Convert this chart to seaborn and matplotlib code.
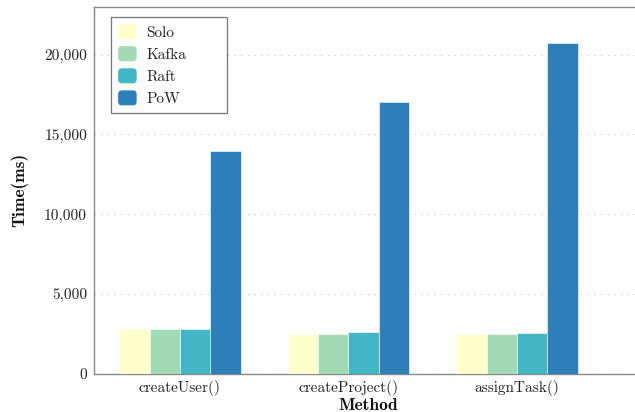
import pandas as pd
import numpy as np
import matplotlib
matplotlib.use('Agg')
import matplotlib.pyplot as plt
import seaborn as sns
from matplotlib.ticker import FuncFormatter
from matplotlib.legend_handler import HandlerPatch
from matplotlib.patches import FancyBboxPatch, Rectangle

# data
methods = ['createUser()', 'createProject()', 'assignTask()']
systems = ['Solo', 'Kafka', 'Raft', 'PoW']
solo = [2800, 2460, 2460]
kafka = [2800, 2500, 2480]
raft = [2780, 2580, 2520]
pow_ = [13960, 17060, 20740]
colors = ['#ffffcc', '#a1dab4', '#41b6c4', '#2c7fb8']

rows = []
for name, vals in zip(systems, [solo, kafka, raft, pow_]):
    for m, v in zip(methods, vals):
        rows.append({'Method': m, 'System': name, 'Time': v})
df = pd.DataFrame(rows)

sns.set_style('white')
plt.rcParams['font.family'] = ['cmr10', 'DejaVu Serif']
plt.rcParams['axes.formatter.use_mathtext'] = True

fig = plt.figure(figsize=(6.35, 4.12), dpi=100)
ax = fig.add_axes([94 / 635, 38.5 / 412, 548 / 635, 366.5 / 412])

sns.barplot(data=df, x='Method', y='Time', hue='System', order=methods,
            hue_order=systems, palette=colors, width=0.72, saturation=1,
            edgecolor='white', linewidth=0.4, ax=ax, zorder=3)

ax.set_xlim(-0.51, -0.51 + 548 / 168.5)
ax.set_ylim(0, 23000)
ax.set_yticks([0, 5000, 10000, 15000, 20000])
ax.yaxis.set_major_formatter(FuncFormatter(lambda v, p: f'{int(v):,}'))
ax.grid(axis='y', linestyle=(0, (1, 5)), color='#c4c4c4', linewidth=0.8, zorder=0)
ax.set_axisbelow(True)

for s in ['left', 'bottom', 'top']:
    ax.spines[s].set_color('#888888')
    ax.spines[s].set_linewidth(1.0)
ax.spines['right'].set_visible(False)
ax.tick_params(axis='both', length=0, labelsize=11, pad=5, labelcolor='#222222')

ax.set_xlabel('Method', fontsize=12.5, fontfamily='cmb10', labelpad=1, color='#111111')
ax.set_ylabel('Time(ms)', fontsize=12.5, fontfamily='cmb10', labelpad=11, color='#111111')


# rounded squares in the legend
def rounded(legend, orig_handle, xdescent, ydescent, width, height, fontsize):
    return FancyBboxPatch((-xdescent, -ydescent), width, height,
                          boxstyle='round,pad=0,rounding_size=3')


leg = ax.legend(loc='upper left', bbox_to_anchor=(0.031, 0.973 - 0.26, 0.212, 0.26),
                mode='expand', fontsize=11,
                frameon=True, fancybox=False, edgecolor='#555555',
                handlelength=1.25, handleheight=1.2, labelspacing=0.4,
                borderpad=0.45, handletextpad=0.6, borderaxespad=0,
                handler_map={Rectangle: HandlerPatch(patch_func=rounded)})
leg.get_frame().set_linewidth(0.9)
for t in leg.get_texts():
    t.set_color('#222222')

fig.savefig('out.png', dpi=100)
